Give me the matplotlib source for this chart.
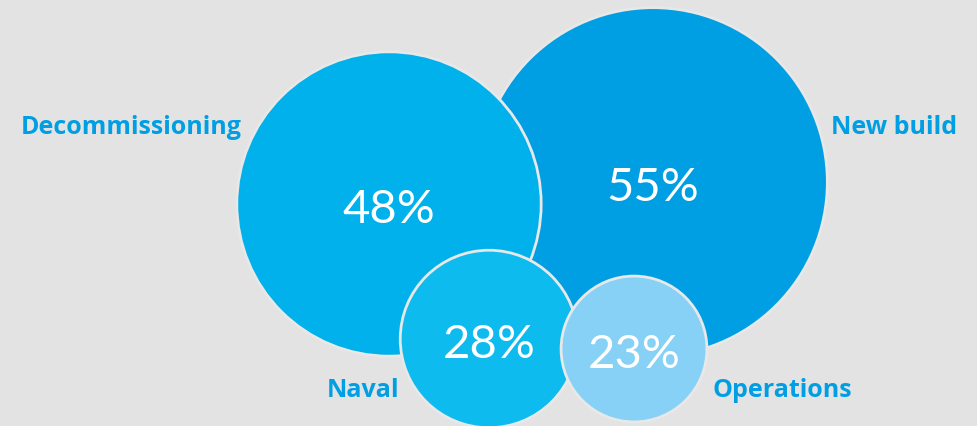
import matplotlib.pyplot as plt
from matplotlib.patches import Circle

# Share of work by sector
sectors = ["New build", "Decommissioning", "Naval", "Operations"]
shares = [55, 48, 28, 23]

# Bubble centres (pixels) and label anchors
centres = [(653, 183), (389, 205), (489, 340), (634, 350)]
fills = ["#009fe3", "#00b1eb", "#0dbbef", "#86d1f5"]
label_pos = [(831, 127, "left"), (242, 127, "right"), (399, 391, "right"), (712, 391, "left")]

px_per_pct = 3.17  # bubble radius grows linearly with the share
bg = "#e3e3e3"

fig = plt.figure(figsize=(9.77, 4.27), dpi=100)
fig.patch.set_facecolor(bg)
ax = fig.add_axes([0, 0, 1, 1])
ax.set_facecolor(bg)
ax.set_xlim(0, 977)
ax.set_ylim(427, 0)
ax.set_aspect("equal")
ax.axis("off")

for (cx, cy), share, color in zip(centres, shares, fills):
    ax.add_patch(Circle((cx, cy), share * px_per_pct, facecolor=color,
                        edgecolor="#e8e8e8", linewidth=2))
    ax.text(cx, cy + 5, f"{share}%", color="white", fontsize=34,
            family="Lato", ha="center", va="center")

for name, (lx, ly, ha) in zip(sectors, label_pos):
    ax.text(lx, ly, name, color="#009fe3", fontsize=18, family="Open Sans",
            fontweight="bold", ha=ha, va="center")

fig.savefig("out.png", dpi=100, facecolor=bg)
